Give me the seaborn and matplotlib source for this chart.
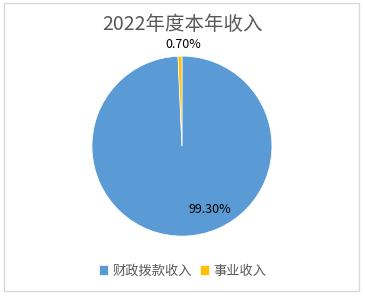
import matplotlib
matplotlib.use("Agg")
import matplotlib.pyplot as plt
import seaborn as sns
from matplotlib.patches import Rectangle

categories = ["财政拨款收入", "事业收入"]
values = [99.30, 0.70]
pct_labels = ["99.30%", "0.70%"]
title = "2022年度本年收入"

sns.set_theme(style="white")
plt.rcParams['font.family'] = ['Noto Sans CJK SC', 'DejaVu Sans']
colors = sns.color_palette(["#5B9BD5", "#FFC000"])

fig = plt.figure(figsize=(3.65, 2.97), dpi=100)
fig.patch.set_facecolor("white")
fig.patches.append(Rectangle((4 / 365, 1 - 291 / 297), 355 / 365, 288 / 297,
                             transform=fig.transFigure, fill=False,
                             edgecolor="#D9D9D9", linewidth=1))

ax = fig.add_axes([0.252, 0.205, 0.493, 0.606])
wedges, texts = ax.pie(values, colors=colors, startangle=90, counterclock=False,
                       wedgeprops=dict(edgecolor="white", linewidth=0.5))
ax.set_xlim(-1, 1)
ax.set_ylim(-1, 1)
ax.set_aspect("equal")

# data labels
ax.text(0.31, -0.70, pct_labels[0], ha="center", va="center", fontsize=9, color="#000000")
ax.text(0.01, 1.13, pct_labels[1], ha="center", va="center", fontsize=9, color="#000000")

fig.text(0.5, 1 - 24 / 297, title, ha="center", va="center", fontsize=14, color="#595959")

fig.legend(wedges, categories, loc="center", bbox_to_anchor=(0.5, 1 - 271 / 297),
           ncol=2, frameon=False, fontsize=9.5, handlelength=0.7, handleheight=0.7,
           handletextpad=0.3, columnspacing=0.6, labelcolor="#595959")

fig.savefig("out.png", dpi=100)
